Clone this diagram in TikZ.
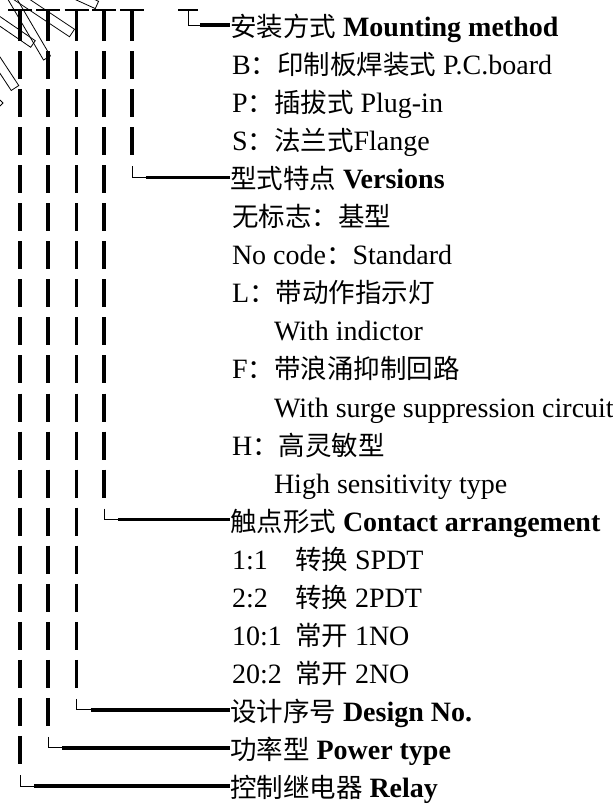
\documentclass[tikz,border=0pt]{standalone}
\usepackage{fontspec}
\setmainfont{Liberation Serif}
\newfontfamily\cjk{Noto Sans CJK SC}
\newcommand\zhtxt[1]{{\cjk\fontsize{26.5}{30}\selectfont #1}}
\begin{document}
\begin{tikzpicture}[x=1pt,y=-1pt,
  font=\fontsize{28}{30}\selectfont,
  dashline/.style={line width=3.3pt},
  tbar/.style={line width=2pt},
  corner/.style={line width=1pt},
  lead/.style={line width=3.3pt},
  txt/.style={anchor=base west,inner sep=0pt,outer sep=0pt},
  art/.style={line width=0.8pt}]
\useasboundingbox (0,0) rectangle (613,804);
% artifacts top-left
\begin{scope}
\clip (0,0) rectangle (613,804);
\draw[art,shift={(43.5,14)},rotate=-33.7] (-34.25,-4.5) rectangle (34.25,4.5);
\draw[art,shift={(14,31)},rotate=-34.4] (-23,-4) rectangle (23,4);
\draw[art,shift={(28.5,26.5)},rotate=-59.6] (-36.5,-4) rectangle (36.5,4);
\draw[art,shift={(86,0)},rotate=-24.4] (-12,-4) rectangle (12,4);
\draw[art,shift={(2.5,69)},rotate=-56.7] (-22.75,-4.5) rectangle (22.75,4.5);
\draw[art] (0,100) -- (3,103) -- (0,106);
\end{scope}
% text
\def\bl#1{27+38.05*#1+9.5}
\node[txt] (hd0) at (230,{\bl{0}}) {\zhtxt{安装方式} \textbf{Mounting method}};
\node[txt] (t1) at (232,{\bl{1}}) {B\zhtxt{：印制板焊装式} P.C.board};
\node[txt] (t2) at (232,{\bl{2}}) {P\zhtxt{：插拔式} Plug-in};
\node[txt] (t3) at (232,{\bl{3}}) {S\zhtxt{：法兰式}Flange};
\node[txt] (hd4) at (230,{\bl{4}}) {\zhtxt{型式特点} \textbf{Versions}};
\node[txt] (t5) at (232,{\bl{5}}) {\zhtxt{无标志：基型}};
\node[txt] (t6) at (232,{\bl{6}}) {No code\zhtxt{：}Standard};
\node[txt] (t7) at (232,{\bl{7}}) {L\zhtxt{：带动作指示灯}};
\node[txt] (t8) at (274,{\bl{8}}) {With indictor};
\node[txt] (t9) at (232,{\bl{9}}) {F\zhtxt{：带浪涌抑制回路}};
\node[txt] (t10) at (274,{\bl{10}}) {With surge suppression circuit};
\node[txt] (t11) at (232,{\bl{11}}) {H\zhtxt{：高灵敏型}};
\node[txt] (t12) at (274,{\bl{12}}) {High sensitivity type};
\node[txt] (hd13) at (230,{\bl{13}}) {\zhtxt{触点形式} \textbf{Contact arrangement}};
\node[txt] (t14) at (232,{\bl{14}}) {\makebox[63pt][l]{1:1}\zhtxt{转换} SPDT};
\node[txt] (t15) at (232,{\bl{15}}) {\makebox[63pt][l]{2:2}\zhtxt{转换} 2PDT};
\node[txt] (t16) at (232,{\bl{16}}) {\makebox[63pt][l]{10:1}\zhtxt{常开} 1NO};
\node[txt] (t17) at (232,{\bl{17}}) {\makebox[63pt][l]{20:2}\zhtxt{常开} 2NO};
\node[txt] (hd18) at (230,{\bl{18}}) {\zhtxt{设计序号} \textbf{Design No.}};
\node[txt] (hd19) at (230,{\bl{19}}) {\zhtxt{功率型} \textbf{Power type}};
\node[txt] (hd20) at (230,{\bl{20}}) {\zhtxt{控制继电器} \textbf{Relay}};
% dashed columns
\foreach \x/\last in {20/19,48/18,76.5/17,104/12,132/3}{
  \draw[tbar] (\x-12,10) -- (\x+12,10);
  \draw[dashline] (\x,10) -- (\x,41);
  \foreach \i in {1,...,\last}{
    \pgfmathsetmacro\ya{27+38.05*\i-14}
    \pgfmathsetmacro\yb{27+38.05*\i+14}
    \draw[dashline] (\x,\ya) -- (\x,\yb);
  }
  \pgfmathtruncatemacro\k{\last+1}
  \pgfmathsetmacro\yc{27+38.05*\k-2}
  \pgfmathsetmacro\ys{27+38.05*\k-13}
  \coordinate (k\k) at (\x+14,\yc);
  \draw[corner] (\x,\ys) -- (\x,\yc) -- (k\k);
  \draw[lead] (k\k) -- (k\k -| hd\k.west);
}
% top mounting connector
\coordinate (k0) at (200,25);
\draw[tbar] (178,10) -- (198,10);
\draw[corner] (188,10) -- (188,25) -- (k0);
\draw[lead] (k0) -- (k0 -| hd0.west);
\end{tikzpicture}
\end{document}
